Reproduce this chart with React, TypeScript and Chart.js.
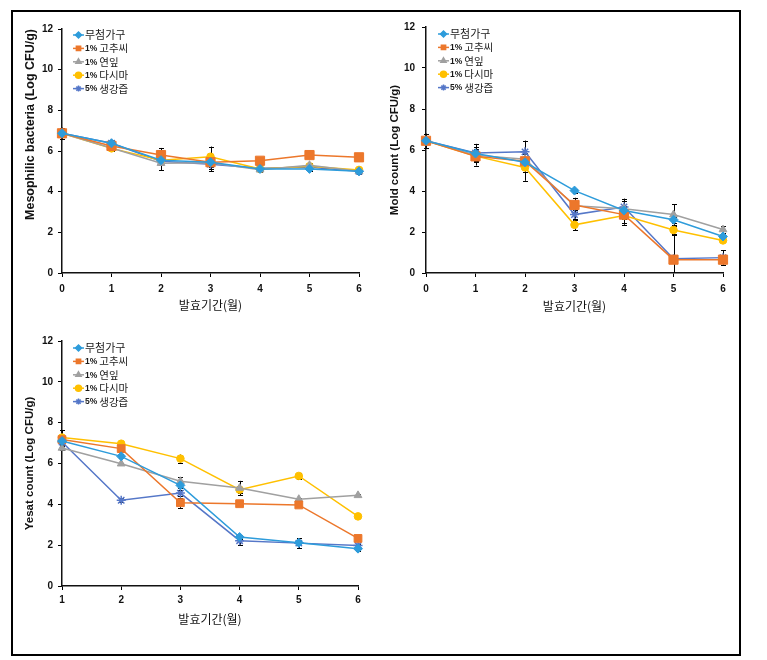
import React, { useEffect, useRef } from 'react';
import { Chart, registerables } from 'chart.js';
import { drawPoint } from 'chart.js/helpers';

Chart.register(...registerables);

// ---------- data ----------
const seriesNames = ['무첨가구', '1% 고추씨', '1% 연잎', '1% 다시마', '5% 생강즙'];
const seriesColors = ['#2E9CDB', '#EC772B', '#A0A0A0', '#FFC000', '#5577C8'];
const seriesPointStyles = ['rectRot', 'rect', 'triangle', 'circle', 'star'];

const mesoMonths = ['0', '1', '2', '3', '4', '5', '6'];
const mesoControl = [6.87, 6.38, 5.55, 5.45, 5.12, 5.12, 5.0];
const mesoPepperSeed = [6.87, 6.25, 5.8, 5.45, 5.52, 5.8, 5.69];
const mesoLotusLeaf = [6.87, 6.15, 5.4, 5.42, 5.08, 5.3, 5.0];
const mesoKelp = [6.87, 6.13, 5.55, 5.72, 5.12, 5.25, 5.07];
const mesoGinger = [6.87, 6.38, 5.5, 5.35, 5.15, 5.2, 5.0];
const mesoControlErr = [0.1, 0.1, 0.15, 0.1, 0.1, 0.1, 0.1];
const mesoPepperSeedErr = [0.1, 0.1, 0.35, 0.1, 0.1, 0.08, 0.08];
const mesoLotusLeafErr = [0.1, 0.15, 0.35, 0.3, 0.1, 0.1, 0.15];
const mesoKelpErr = [0.1, 0.1, 0.2, 0.5, 0.1, 0.1, 0.1];
const mesoGingerErr = [0.28, 0.15, 0.2, 0.35, 0.1, 0.1, 0.1];

const moldMonths = ['0', '1', '2', '3', '4', '5', '6'];
const moldControl = [6.45, 5.83, 5.4, 4.02, 3.05, 2.6, 1.78];
const moldPepperSeed = [6.45, 5.69, 5.45, 3.32, 2.85, 0.65, 0.65];
const moldLotusLeaf = [6.45, 5.75, 5.55, 3.28, 3.13, 2.85, 2.12];
const moldKelp = [6.45, 5.7, 5.15, 2.35, 2.8, 2.1, 1.59];
const moldGinger = [6.45, 5.85, 5.91, 2.85, 3.22, 0.7, 0.75];
const moldControlErr = [0.1, 0.1, 0.1, 0.1, 0.15, 0.15, 0.1];
const moldPepperSeedErr = [0.35, 0.45, 0.5, 0.35, 0.4, 1.2, 0.1];
const moldLotusLeafErr = [0.1, 0.3, 0.3, 0.2, 0.5, 0.5, 0.15];
const moldKelpErr = [0.1, 0.3, 0.65, 0.25, 0.45, 0.2, 0.1];
const moldGingerErr = [0.1, 0.45, 0.55, 0.2, 0.3, 1.15, 0.35];

const yeastMonths = ['1', '2', '3', '4', '5', '6'];
const yeastControl = [7.1, 6.35, 4.93, 2.4, 2.12, 1.83];
const yeastPepperSeed = [7.17, 6.73, 4.08, 4.03, 3.97, 2.33];
const yeastLotusLeaf = [6.76, 5.99, 5.13, 4.8, 4.25, 4.44];
const yeastKelp = [7.27, 6.97, 6.24, 4.72, 5.39, 3.41];
const yeastGinger = [7.05, 4.2, 4.55, 2.22, 2.1, 1.98];
const yeastControlErr = [0.15, 0.1, 0.15, 0.1, 0.1, 0.1];
const yeastPepperSeedErr = [0.15, 0.1, 0.25, 0.05, 0.05, 0.05];
const yeastLotusLeafErr = [0.1, 0.05, 0.2, 0.35, 0.05, 0.05];
const yeastKelpErr = [0.35, 0.15, 0.2, 0.15, 0.15, 0.05];
const yeastGingerErr = [0.2, 0.1, 0.15, 0.2, 0.25, 0.1];

const yTicks = [0, 2, 4, 6, 8, 10, 12];
const xTitle = '발효기간(월)';

const FONT = '"Liberation Sans", Arial, "Noto Sans CJK KR", sans-serif';
const KFONT = '"Noto Sans CJK KR", "Liberation Sans", sans-serif';

// ---------- plugins ----------
const errorBarPlugin = {
  id: 'errorBars',
  beforeDatasetsDraw(chart: any) {
    const ctx = chart.ctx;
    const ys = chart.scales.y;
    ctx.save();
    ctx.strokeStyle = '#000';
    ctx.lineWidth = 1;
    chart.data.datasets.forEach((ds: any, i: number) => {
      const meta = chart.getDatasetMeta(i);
      const errs: number[] = ds.errorBars || [];
      meta.data.forEach((pt: any, j: number) => {
        const v = ds.data[j];
        const e = errs[j] || 0;
        if (!e) return;
        const x = Math.round(pt.x) + 0.5;
        const yt = ys.getPixelForValue(v + e);
        const yb = ys.getPixelForValue(Math.max(v - e, 0));
        ctx.beginPath();
        ctx.moveTo(x, yt);
        ctx.lineTo(x, yb);
        ctx.moveTo(x - 2.5, Math.round(yt) + 0.5);
        ctx.lineTo(x + 2.5, Math.round(yt) + 0.5);
        if (v - e > 0) {
          ctx.moveTo(x - 2.5, Math.round(yb) + 0.5);
          ctx.lineTo(x + 2.5, Math.round(yb) + 0.5);
        }
        ctx.stroke();
      });
    });
    ctx.restore();
  },
};

const insideLegendPlugin = {
  id: 'insideLegend',
  afterDraw(chart: any, _args: any, opts: any) {
    const ctx = chart.ctx;
    const area = chart.chartArea;
    const x0 = area.left + (opts.offsetX ?? 11);
    let y = area.top + (opts.offsetY ?? 6);
    ctx.save();
    chart.data.datasets.forEach((ds: any) => {
      ctx.strokeStyle = ds.borderColor;
      ctx.lineWidth = 1.5;
      ctx.beginPath();
      ctx.moveTo(x0, y);
      ctx.lineTo(x0 + 11, y);
      ctx.stroke();
      ctx.fillStyle = ds.pointBackgroundColor;
      ctx.strokeStyle = ds.pointBorderColor;
      drawPoint(ctx, { pointStyle: ds.pointStyle, radius: 3, borderWidth: 1, rotation: 0 } as any, x0 + 5.5, y);
      const label: string = ds.label;
      const sp = label.indexOf(' ');
      let tx = x0 + 12;
      ctx.fillStyle = '#1a1a1a';
      ctx.textBaseline = 'middle';
      ctx.textAlign = 'left';
      if (sp > 0) {
        const pre = label.slice(0, sp);
        const rest = label.slice(sp + 1);
        ctx.font = 'bold 8.5px ' + FONT;
        ctx.fillText(pre, tx, y + 0.5);
        tx += ctx.measureText(pre).width + 2;
        ctx.font = '10.5px ' + KFONT;
        ctx.fillText(rest, tx, y);
      } else {
        ctx.font = '11px ' + KFONT;
        ctx.fillText(label, tx, y);
      }
      y += opts.spacing ?? 13.4;
    });
    ctx.restore();
  },
};

// ---------- chart panel ----------
type PanelProps = {
  labels: string[];
  series: number[][];
  errors: number[][];
  yTitle: string;
  yTitleSize: number;
  yTitleAlign: string;
  rectRadius: number;
  left: number;
  top: number;
  width: number;
  height: number;
  pad: { left: number; right: number; top: number; bottom: number };
  yAxisWidth: number;
  xAxisHeight: number;
  yTitlePad: number;
  xTitlePad: number;
  yTickPad: number;
  xTickPad: number;
  legendX: number;
  legendY: number;
};

function ChartPanel(p: PanelProps) {
  const ref = useRef<HTMLCanvasElement | null>(null);
  useEffect(() => {
    if (!ref.current) return;
    const datasets = p.series.map((data, i) => {
      const style = seriesPointStyles[i];
      const radius = style === 'rect' ? p.rectRadius : style === 'circle' ? 3.8 : 4.5;
      return {
        label: seriesNames[i],
        data,
        errorBars: p.errors[i],
        borderColor: seriesColors[i],
        backgroundColor: seriesColors[i],
        pointBackgroundColor: seriesColors[i],
        pointBorderColor: seriesColors[i],
        pointStyle: style,
        pointRadius: radius,
        pointBorderWidth: style === 'star' ? 1.5 : 1,
        borderWidth: 1.5,
        tension: 0,
        fill: false,
      };
    });
    const chart = new Chart(ref.current, {
      type: 'line',
      data: { labels: p.labels, datasets: datasets as any },
      options: {
        animation: false,
        responsive: false,
        devicePixelRatio: 1,
        layout: { padding: p.pad },
        plugins: {
          legend: { display: false },
          tooltip: { enabled: false },
          insideLegend: { offsetX: p.legendX, offsetY: p.legendY, spacing: 13.4 },
        } as any,
        scales: {
          x: {
            type: 'category',
            offset: false,
            grid: { display: true, drawOnChartArea: false, drawTicks: true, tickLength: 4, color: '#000', lineWidth: 1 },
            border: { display: true, color: '#111', width: 1.5 },
            ticks: { color: '#111', padding: p.xTickPad, font: { family: FONT, size: 10, weight: 'bold' }, maxRotation: 0 },
            title: { display: true, text: xTitle, color: '#111', font: { family: KFONT, size: 12 }, padding: { top: 0, bottom: p.xTitlePad } },
            afterFit: (s: any) => { s.height = p.xAxisHeight; },
          },
          y: {
            type: 'linear',
            min: 0,
            max: 12,
            afterBuildTicks: (s: any) => { s.ticks = yTicks.map((v) => ({ value: v })); },
            grid: { display: true, drawOnChartArea: false, drawTicks: true, tickLength: 4, color: '#000', lineWidth: 1 },
            border: { display: true, color: '#111', width: 1.5 },
            ticks: { color: '#111', padding: p.yTickPad, font: { family: FONT, size: 10, weight: 'bold' } },
            title: { display: true, text: p.yTitle, align: p.yTitleAlign, color: '#111', font: { family: FONT, size: p.yTitleSize, weight: 'bold' }, padding: { top: p.yTitlePad, bottom: 0 } },
            afterFit: (s: any) => { s.width = p.yAxisWidth; },
          },
        },
      } as any,
      plugins: [errorBarPlugin, insideLegendPlugin],
    });
    return () => chart.destroy();
  }, []);
  return (
    <canvas
      ref={ref}
      width={p.width}
      height={p.height}
      style={{ position: 'absolute', left: p.left, top: p.top, width: p.width, height: p.height }}
    />
  );
}

export default function App() {
  return (
    <div style={{ position: 'absolute', left: 0, top: 0, width: 767, height: 660, background: '#fff', overflow: 'hidden' }}>
      <div style={{ position: 'absolute', left: 11, top: 10, width: 730, height: 646, border: '2px solid #000', boxSizing: 'border-box' }} />
      <ChartPanel
        labels={mesoMonths}
        series={[mesoControl, mesoPepperSeed, mesoLotusLeaf, mesoKelp, mesoGinger]}
        errors={[mesoControlErr, mesoPepperSeedErr, mesoLotusLeafErr, mesoKelpErr, mesoGingerErr]}
        yTitle="Mesophilic bacteria (Log CFU/g)"
        yTitleSize={12.5}
        yTitleAlign="end"
        rectRadius={6.5}
        left={14}
        top={14}
        width={372}
        height={306}
        pad={{ left: 0, right: 27, top: 15, bottom: 0 }}
        yAxisWidth={48}
        xAxisHeight={47}
        yTitlePad={9}
        xTitlePad={7}
        yTickPad={5}
        xTickPad={6}
        legendX={11}
        legendY={6}
      />
      <ChartPanel
        labels={moldMonths}
        series={[moldControl, moldPepperSeed, moldLotusLeaf, moldKelp, moldGinger]}
        errors={[moldControlErr, moldPepperSeedErr, moldLotusLeafErr, moldKelpErr, moldGingerErr]}
        yTitle="Mold count (Log CFU/g)"
        yTitleSize={11.5}
        yTitleAlign="center"
        rectRadius={6.5}
        left={388}
        top={14}
        width={350}
        height={306}
        pad={{ left: 0, right: 15, top: 12, bottom: 0 }}
        yAxisWidth={38}
        xAxisHeight={47}
        yTitlePad={0}
        xTitlePad={6}
        yTickPad={7}
        xTickPad={6}
        legendX={12}
        legendY={7}
      />
      <ChartPanel
        labels={yeastMonths}
        series={[yeastControl, yeastPepperSeed, yeastLotusLeaf, yeastKelp, yeastGinger]}
        errors={[yeastControlErr, yeastPepperSeedErr, yeastLotusLeafErr, yeastKelpErr, yeastGingerErr]}
        yTitle="Yesat count (Log CFU/g)"
        yTitleSize={11.5}
        yTitleAlign="center"
        rectRadius={5.5}
        left={14}
        top={325}
        width={372}
        height={315}
        pad={{ left: 0, right: 28, top: 16, bottom: 0 }}
        yAxisWidth={48}
        xAxisHeight={54}
        yTitlePad={9}
        xTitlePad={13}
        yTickPad={5}
        xTickPad={4}
        legendX={11}
        legendY={7}
      />
    </div>
  );
}
